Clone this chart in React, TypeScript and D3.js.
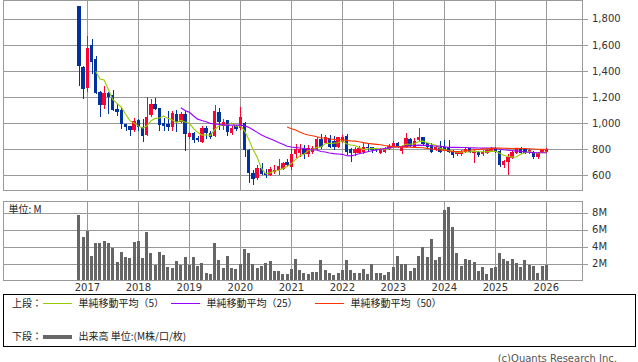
import React from "react";
import * as d3 from "d3";

// ---- data (monthly, Nov 2016 .. Jan 2026) ----
const firstMonth = new Date(2016, 10, 1);
const lastMonth = new Date(2026, 0, 1);
const months: Date[] = d3.timeMonth.range(firstMonth, d3.timeMonth.offset(lastMonth, 1));

const opens = [
  1900, 1431, 1269, 1600, 1492, 1238, 1138, 1233, 1213, 1108, 1100, 992, 977, 946,
  1023, 972, 908, 1062, 1146, 1113, 998, 992, 972, 1069, 1010, 1069,
  895, 925, 882, 856, 959, 925, 900, 1082, 980, 1020, 925, 975,
  960, 1003, 792, 618, 575, 651, 615, 600, 620, 635, 650, 700,
  665, 760, 770, 800, 760, 779, 798, 877, 844, 882, 862, 818,
  856, 902, 798, 772, 772, 779, 818, 818, 800, 772, 779, 798,
  823, 848, 787, 818, 875, 818, 869, 890, 844, 831, 792, 818,
  813, 813, 779, 762, 759, 779, 805, 767, 779, 759, 767, 779,
  805, 787, 677, 703, 733, 772, 798, 798, 774, 779, 741, 774,
  779,
];
const highs = [
  1900, 1440, 1669, 1646, 1515, 1248, 1285, 1240, 1254, 1146, 1118, 995, 980, 1041,
  1030, 1031, 1198, 1185, 1192, 1118, 1038, 1092, 1092, 1103, 1085, 1092,
  931, 931, 900, 977, 975, 935, 1138, 1113, 1030, 1025, 975, 985,
  1121, 1010, 800, 640, 677, 690, 650, 660, 680, 720, 700, 720,
  800, 840, 840, 830, 830, 820, 895, 915, 910, 905, 900, 895,
  910, 915, 805, 815, 820, 850, 845, 818, 810, 810, 815, 835,
  860, 855, 830, 921, 885, 885, 964, 895, 850, 850, 825, 860,
  870, 870, 790, 785, 790, 805, 810, 795, 785, 790, 800, 815,
  815, 790, 715, 760, 795, 810, 815, 805, 800, 785, 780, 800,
  805,
];
const lows = [
  1285, 1187, 1241, 1377, 1225, 1044, 1108, 1067, 1095, 1056, 952, 941, 900, 933,
  941, 856, 900, 1050, 1100, 941, 941, 941, 941, 931, 1000, 787,
  877, 846, 854, 846, 880, 880, 895, 946, 950, 900, 910, 940,
  950, 741, 541, 523, 562, 600, 580, 590, 610, 600, 635, 660,
  640, 730, 740, 720, 740, 760, 790, 800, 835, 810, 790, 805,
  850, 754, 702, 750, 760, 760, 780, 770, 780, 765, 770, 790,
  815, 805, 760, 810, 815, 805, 860, 830, 810, 770, 785, 770,
  785, 770, 733, 745, 750, 770, 770, 694, 740, 750, 760, 775,
  770, 664, 655, 600, 720, 765, 765, 760, 765, 725, 725, 770,
  770,
];
const closes = [
  1441, 1264, 1579, 1472, 1233, 1141, 1228, 1202, 1100, 1087, 990, 967, 946, 1015,
  972, 902, 1049, 1146, 1108, 985, 977, 969, 1075, 1010, 1069, 913,
  921, 869, 869, 964, 925, 895, 1092, 1010, 1010, 930, 964, 955,
  1049, 792, 618, 572, 651, 610, 600, 650, 640, 670, 690, 680,
  760, 800, 800, 760, 810, 810, 877, 818, 895, 818, 818, 890,
  895, 779, 772, 798, 810, 818, 805, 792, 790, 798, 805, 823,
  848, 813, 818, 882, 823, 864, 895, 838, 818, 779, 813, 779,
  792, 779, 754, 774, 779, 798, 779, 787, 754, 779, 792, 805,
  779, 677, 710, 741, 779, 798, 772, 767, 790, 741, 772, 790,
  798,
];
// volume in millions of shares
const volumes = [
  7.7, 5.1, 5.8, 2.9, 4.4, 4.4, 4.65, 4.4, 3.9, 2.2, 3.35, 2.75, 2.65, 4.5,
  4.65, 2.65, 5.7, 3.2, 1.8, 3.35, 3.0, 1.6, 1.5, 2.3, 1.8, 2.75,
  1.8, 2.75, 1.7, 2.05, 0.9, 0.75, 4.4, 2.4, 1.5, 2.9, 1.5, 1.35,
  1.9, 3.7, 3.2, 1.9, 1.5, 1.7, 2.05, 2.3, 1.1, 1.1, 0.75, 0.75,
  1.35, 2.5, 1.2, 0.9, 0.75, 1.0, 1.0, 2.4, 1.2, 0.85, 0.6, 0.9,
  1.2, 2.4, 1.2, 0.9, 0.85, 1.35, 0.8, 2.0, 0.85, 0.9, 0.7, 1.0,
  1.6, 2.9, 2.0, 2.0, 1.1, 1.5, 2.9, 4.0, 2.8, 4.9, 2.4, 2.75,
  8.4, 8.65, 6.3, 3.2, 1.7, 2.5, 2.4, 2.2, 1.1, 1.6, 0.75, 1.5,
  1.6, 3.2, 2.5, 2.3, 2.5, 2.05, 1.6, 2.4, 1.8, 1.7, 0.9, 1.7,
  1.8,
];
const priceTicks = [600, 800, 1000, 1200, 1400, 1600, 1800];
const volumeTicks = [2, 4, 6, 8];
const yearTicks: Date[] = d3.timeYear.range(new Date(2017, 0, 1), new Date(2026, 0, 2));
const maPeriods = [5, 25, 50];
const maColors = ["#99CC00", "#9900FF", "#FF3300"];
const maLabels = ["単純移動平均（5）", "単純移動平均（25）", "単純移動平均（50）"];

// ---- layout ----
const W = 638;
const H = 362;
const L = 3.5;
const R = 582.5;
const pTop = 0.5;
const pBot = 190.5;
const vTop = 201.5;
const vBot = 280.5;

const x = d3.scaleTime().domain([new Date(2015, 4, 11), new Date(2026, 8, 17)]).range([L, R]);
const yP = d3.scaleLinear().domain([480.8, 1942.3]).range([pBot, pTop]);
const yV = d3.scaleLinear().domain([0, 9.35]).range([vBot, vTop]);

const BLUE = "#0033A0";
const RED = "#FF0033";
const GRID = "#999999";

const fmt = d3.format(",");

function movingAverage(period: number) {
  const pts: [number, number][] = [];
  for (let i = period - 1; i < closes.length; i++) {
    const m = d3.mean(closes.slice(i - period + 1, i + 1)) as number;
    pts.push([x(months[i]), yP(m)]);
  }
  return d3.line()(pts) as string;
}

export default function App() {
  const cw = 3.4;
  const latin = "'DejaVu Sans', Verdana, sans-serif";
  const cjk = "'Noto Sans CJK JP', 'DejaVu Sans', sans-serif";
  return (
    <svg
      width={W}
      height={H}
      style={{ position: "absolute", left: 0, top: 0, background: "#fff" }}
      shapeRendering="crispEdges"
    >
      {/* price panel grid */}
      {priceTicks.map((t) => (
        <g key={"pt" + t}>
          <line x1={L} x2={R + 5.5} y1={Math.round(yP(t)) + 0.5} y2={Math.round(yP(t)) + 0.5} stroke={GRID} />
          <text x={592} y={yP(t)} dy="0.35em" fontSize={10} fontFamily={latin} fill="#333">
            {fmt(t)}
          </text>
        </g>
      ))}
      {yearTicks.map((d) => (
        <g key={"yg" + d.getFullYear()}>
          <line x1={Math.round(x(d)) + 0.5} x2={Math.round(x(d)) + 0.5} y1={pTop} y2={pBot} stroke={GRID} />
          <line x1={Math.round(x(d)) + 0.5} x2={Math.round(x(d)) + 0.5} y1={vTop} y2={vBot} stroke={GRID} />
          <text x={x(d)} y={291} textAnchor="middle" fontSize={10} fontFamily={latin} fill="#333">
            {d.getFullYear()}
          </text>
        </g>
      ))}
      <rect x={L} y={pTop} width={R - L} height={pBot - pTop} fill="none" stroke={GRID} />

      {/* candles */}
      {months.map((m, i) => {
        const up = closes[i] >= opens[i];
        const col = up ? RED : BLUE;
        const cx = x(m);
        const top = yP(Math.max(opens[i], closes[i]));
        const bot = yP(Math.min(opens[i], closes[i]));
        return (
          <g key={"c" + i}>
            <line x1={Math.round(cx) + 0.5} x2={Math.round(cx) + 0.5} y1={yP(highs[i])} y2={yP(lows[i])} stroke={col} />
            <rect x={cx - cw / 2} y={top} width={cw} height={Math.max(1, bot - top)} fill={col} />
          </g>
        );
      })}

      {/* moving averages */}
      <g shapeRendering="auto">
        {maPeriods.map((p, k) => (
          <path key={"ma" + p} d={movingAverage(p)} fill="none" stroke={maColors[k]} strokeWidth={1.1} />
        ))}
      </g>

      {/* volume panel */}
      {volumeTicks.map((t) => (
        <g key={"vt" + t}>
          <line x1={L} x2={R + 5.5} y1={Math.round(yV(t)) + 0.5} y2={Math.round(yV(t)) + 0.5} stroke={GRID} />
          <text x={592} y={yV(t)} dy="0.35em" fontSize={10} fontFamily={latin} fill="#333">
            {t}M
          </text>
        </g>
      ))}
      {months.map((m, i) => (
        <rect
          key={"v" + i}
          x={x(m) - 1.5}
          y={yV(volumes[i])}
          width={3}
          height={yV(0) - yV(volumes[i])}
          fill="#666666"
        />
      ))}
      <rect x={L} y={vTop} width={R - L} height={vBot - vTop} fill="none" stroke={GRID} />
      <text x={8.5} y={209} dy="0.35em" fontSize={10} fontFamily={cjk} fill="#222">
        単位: M
      </text>

      {/* legend */}
      <rect x={3.5} y={294.5} width={632} height={52} fill="#fff" stroke="#000" />
      <text x={12} y={303.5} dy="0.35em" fontSize={10} fontFamily={cjk} fill="#222">
        上段：
      </text>
      {maPeriods.map((p, k) => {
        const lx = [43, 171, 315][k];
        return (
          <g key={"lg" + p}>
            <line x1={lx} x2={lx + 29} y1={303.5} y2={303.5} stroke={maColors[k]} strokeWidth={1} />
            <text x={lx + 35.5} y={303.5} dy="0.35em" fontSize={10} fontFamily={cjk} fill="#222">
              {maLabels[k]}
            </text>
          </g>
        );
      })}
      <text x={12} y={336.5} dy="0.35em" fontSize={10} fontFamily={cjk} fill="#222">
        下段：
      </text>
      <line x1={43} x2={72} y1={336.5} y2={336.5} stroke="#666666" strokeWidth={4} />
      <text x={78.5} y={336.5} dy="0.35em" fontSize={10} fontFamily={cjk} fill="#222">
        出来高 単位:(M株/口/枚)
      </text>

      <text x={617} y={358} dy="0.35em" textAnchor="end" fontSize={10} fontFamily={latin} fill="#555">
        (c)Quants Research Inc.
      </text>
    </svg>
  );
}
